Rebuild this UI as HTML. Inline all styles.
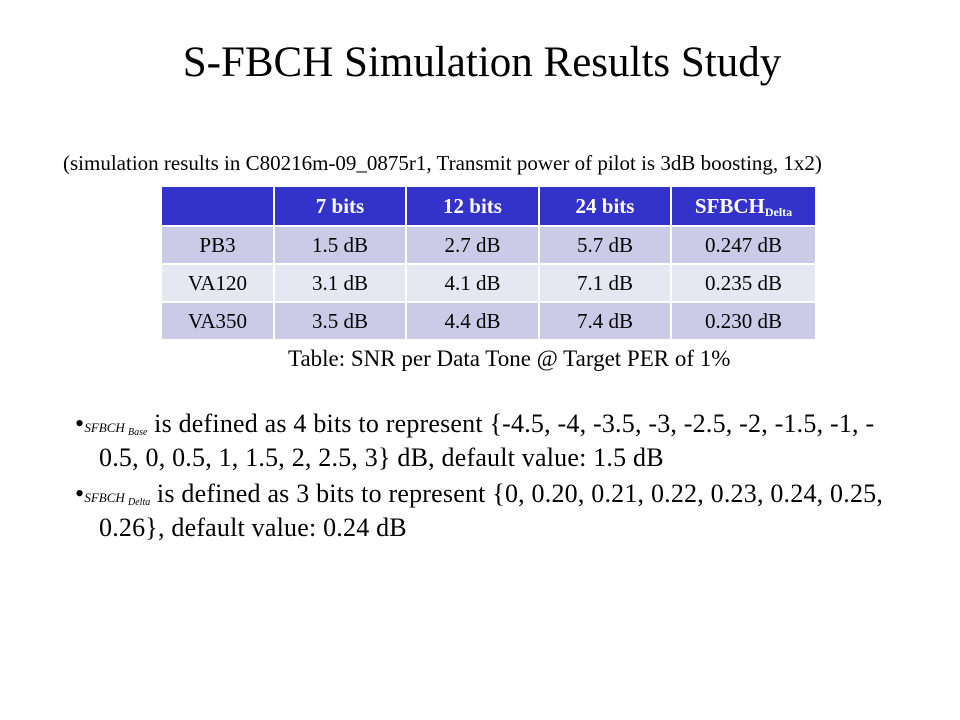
<!DOCTYPE html>
<html><head><meta charset="utf-8"><style>
body{margin:0;width:960px;height:720px;background:#fff;font-family:"Liberation Serif",serif;color:#000;position:relative;overflow:hidden}
.abs{position:absolute;white-space:nowrap}
table{position:absolute;left:160px;top:185px;border-collapse:collapse;font-size:21px}
td{border:2px solid #fff;text-align:center;padding:0;height:36px}
tr.h td{background:#3333cc;color:#fff;font-weight:bold;height:38px}
tr.a td{background:#cbcbe8}
tr.b td{background:#e7e7f3}
.b1{font-size:26px;line-height:30px;letter-spacing:0.2px}
i.s{font-size:13px;font-style:italic;letter-spacing:0}
sub{font-size:10px;line-height:0;vertical-align:baseline;position:relative;top:3px}
</style></head><body>
<div class="abs" style="left:0;width:964px;text-align:center;top:38px;font-size:43px">S-FBCH Simulation Results Study</div>
<div class="abs" style="left:63px;top:151px;font-size:21px">(simulation results in C80216m-09_0875r1, Transmit power of pilot is 3dB boosting, 1x2)</div>
<table>
<colgroup><col style="width:113px"><col style="width:132px"><col style="width:133px"><col style="width:132px"><col style="width:145px"></colgroup>
<tr class="h"><td></td><td>7 bits</td><td>12 bits</td><td>24 bits</td><td>SFBCH<sub style="font-size:12px">Delta</sub></td></tr>
<tr class="a"><td>PB3</td><td>1.5 dB</td><td>2.7 dB</td><td>5.7 dB</td><td>0.247 dB</td></tr>
<tr class="b"><td>VA120</td><td>3.1 dB</td><td>4.1 dB</td><td>7.1 dB</td><td>0.235 dB</td></tr>
<tr class="a"><td>VA350</td><td>3.5 dB</td><td>4.4 dB</td><td>7.4 dB</td><td>0.230 dB</td></tr>
</table>
<div class="abs" style="left:288px;top:346px;font-size:23px">Table: SNR per Data Tone @ Target PER of 1%</div>
<div class="abs b1" style="left:75px;top:409px">•<i class="s">SFBCH <sub>Base</sub></i> is defined as 4 bits to represent {-4.5, -4, -3.5, -3, -2.5, -2, -1.5, -1, -<br><span style="padding-left:24px">0.5, 0, 0.5, 1, 1.5, 2, 2.5, 3} dB, default value: 1.5 dB</span></div>
<div class="abs b1" style="left:75px;top:479px">•<i class="s">SFBCH <sub>Delta</sub></i> is defined as 3 bits to represent {0, 0.20, 0.21, 0.22, 0.23, 0.24, 0.25,<br><span style="padding-left:24px">0.26}, default value: 0.24 dB</span></div>
</body></html>
